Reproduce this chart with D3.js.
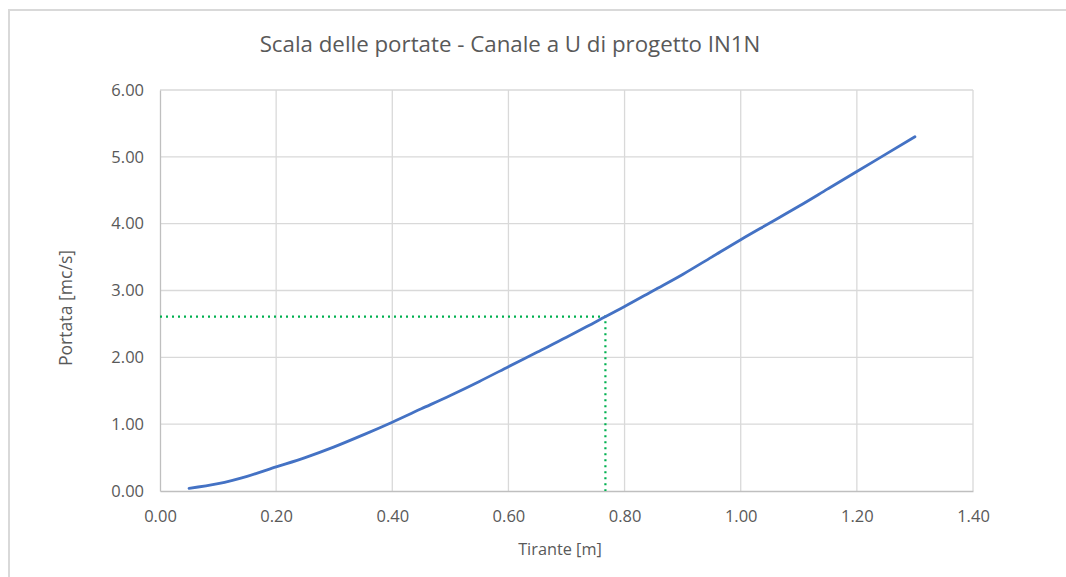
<!DOCTYPE html>
<html>
<head>
<meta charset="utf-8">
<script src="https://cdn.jsdelivr.net/npm/d3@7"></script>
<style>
  html, body { margin: 0; padding: 0; background: #fff; }
  svg { display: block; }
  text { font-family: "Open Sans", "Noto Sans", sans-serif; fill: #595959; }
</style>
</head>
<body>
<svg id="chart" width="1066" height="577"></svg>
<script>
// Tirante (m) and corresponding portata (mc/s) of the rating curve
const tirante = [0.05, 0.10, 0.15, 0.20, 0.25, 0.30, 0.35, 0.40, 0.45, 0.50, 0.55, 0.60, 0.65,
                 0.70, 0.75, 0.80, 0.85, 0.90, 0.95, 1.00, 1.05, 1.10, 1.15, 1.20, 1.25, 1.30];
const portata = [0.04, 0.11, 0.22, 0.36, 0.50, 0.66, 0.84, 1.03, 1.23, 1.43, 1.64, 1.86, 2.08,
                 2.30, 2.53, 2.76, 3.00, 3.24, 3.50, 3.76, 4.01, 4.26, 4.52, 4.78, 5.04, 5.30];

// Design point (dotted reference lines)
const progettoTirante = 0.767;
const progettoPortata = 2.61;

const xTicks = [0, 0.2, 0.4, 0.6, 0.8, 1.0, 1.2, 1.4];
const yTicks = [0, 1, 2, 3, 4, 5, 6];

const svg = d3.select("#chart");

// chart frame
svg.append("path")
  .attr("d", "M9,577 V10 H1066")
  .attr("fill", "none")
  .attr("stroke", "#d9d9d9")
  .attr("stroke-width", 2);

const x = d3.scaleLinear().domain([0, 1.4]).range([160, 973]);
const y = d3.scaleLinear().domain([0, 6]).range([491, 90]);

// gridlines
svg.append("g")
  .selectAll("line")
  .data(xTicks.slice(1))
  .join("line")
  .attr("x1", d => x(d)).attr("x2", d => x(d))
  .attr("y1", y(6)).attr("y2", y(0))
  .attr("stroke", "#d9d9d9").attr("stroke-width", 1.3);

svg.append("g")
  .selectAll("line")
  .data(yTicks.slice(1))
  .join("line")
  .attr("x1", x(0)).attr("x2", x(1.4))
  .attr("y1", d => y(d)).attr("y2", d => y(d))
  .attr("stroke", "#d9d9d9").attr("stroke-width", 1.3);

// axes
const xAxis = svg.append("g")
  .attr("transform", `translate(0,${y(0)})`)
  .call(d3.axisBottom(x).tickValues(xTicks).tickFormat(d3.format(".2f")).tickSize(0).tickPadding(19));
const yAxis = svg.append("g")
  .attr("transform", `translate(${x(0)},0)`)
  .call(d3.axisLeft(y).tickValues(yTicks).tickFormat(d3.format(".2f")).tickSize(0).tickPadding(16));

[xAxis, yAxis].forEach(g => {
  g.select(".domain").attr("stroke", "#bfbfbf").attr("stroke-width", 1.3);
  g.selectAll("text").attr("font-size", 16.5).attr("fill", "#595959")
    .attr("font-family", "\"Open Sans\", sans-serif");
});

// design point reference lines
svg.append("path")
  .attr("d", `M${x(0)},${y(progettoPortata)} H${x(progettoTirante)} V${y(0)}`)
  .attr("fill", "none")
  .attr("stroke", "#00b050")
  .attr("stroke-width", 2.2)
  .attr("stroke-dasharray", "2,4");

// rating curve
const line = d3.line()
  .x((d, i) => x(tirante[i]))
  .y(d => y(d))
  .curve(d3.curveMonotoneX);

svg.append("path")
  .datum(portata)
  .attr("d", line)
  .attr("fill", "none")
  .attr("stroke", "#4472c4")
  .attr("stroke-width", 2.8)
  .attr("stroke-linecap", "round");

// title
svg.append("text")
  .attr("x", 510).attr("y", 52)
  .attr("text-anchor", "middle")
  .attr("font-size", 22.3)
  .text("Scala delle portate - Canale a U di progetto IN1N");

// axis titles
svg.append("text")
  .attr("x", 560).attr("y", 555)
  .attr("text-anchor", "middle")
  .attr("font-size", 16.3)
  .text("Tirante [m]");

svg.append("text")
  .attr("transform", "translate(72,308) rotate(-90)")
  .attr("text-anchor", "middle")
  .attr("font-size", 17.6)
  .text("Portata [mc/s]");
</script>
</body>
</html>
